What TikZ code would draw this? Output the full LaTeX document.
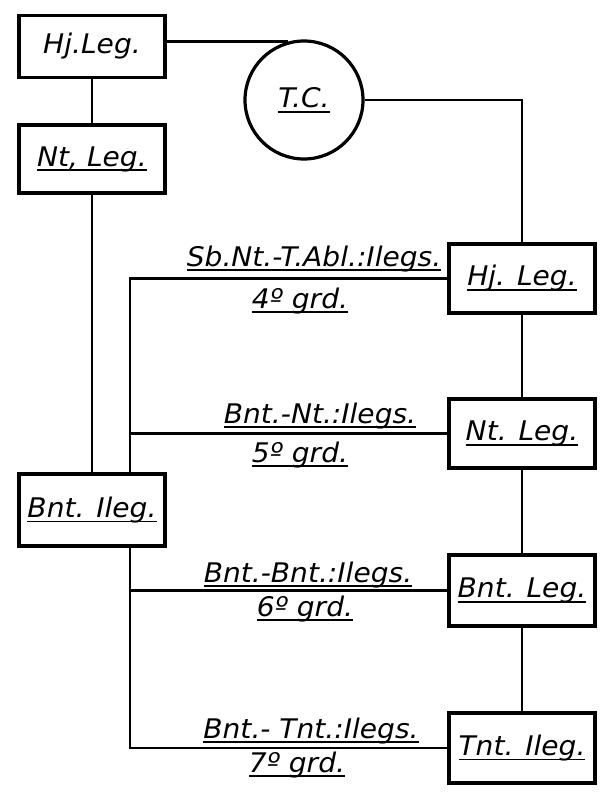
\documentclass[tikz,border=0pt]{standalone}
\usepackage{fontspec}
\setmainfont{DejaVu Sans}[FakeStretch=1.04]
\newcommand\myul[1]{\setbox0=\hbox{#1}\rlap{\rule[-5pt]{\wd0}{1.6pt}}\box0}
\tikzset{
  box/.style={draw, line width=3.8pt, minimum width=146pt, font=\fontsize{27}{29}\selectfont\itshape, inner sep=0pt},
  conn/.style={line width=2.2pt},
  lbl/.style={anchor=base, font=\fontsize{27}{29}\selectfont\itshape, inner sep=0pt},
}
\begin{document}
\begin{tikzpicture}[x=1pt,y=-1pt]
\useasboundingbox (0,0) rectangle (608,795);
% left column
\node[box, minimum height=62pt] (hjl) at (92,46.5) {Hj.Leg.};
\node[box, minimum height=68pt] (ntl) at (92,159) {\myul{Nt, Leg.}};
\node[box, minimum height=72pt] (bnl) at (92,510) {\myul{Bnt. Ileg.}};
% circle
\node[draw, circle, line width=3.2pt, minimum size=118pt, font=\fontsize{27}{29}\selectfont\itshape, inner sep=0pt] (tc) at (304,100) {\myul{T.C.}};
% right column
\node[box, minimum height=69pt] (hjr) at (522,278.5) {\myul{Hj. Leg.}};
\node[box, minimum height=69pt] (ntr) at (522,433.5) {\myul{Nt. Leg.}};
\node[box, minimum height=71pt] (bnr) at (522,590.5) {\myul{Bnt. Leg.}};
\node[box, minimum height=70pt] (tnr) at (522,748) {\myul{Tnt. Ileg.}};
% connectors
\coordinate (v) at (130,0);
\draw[conn] (hjl.south) -- (ntl.north);
\draw[conn] (ntl.south) -- (bnl.north);
\draw[conn] (hjl.east |- tc.105) -- (tc.105);
\draw[conn] (tc.east) -- (tc.east -| hjr.north) -- (hjr.north);
\draw[conn] (hjr.south) -- (ntr.north);
\draw[conn] (ntr.south) -- (bnr.north);
\draw[conn] (bnr.south) -- (tnr.north);
\draw[conn] (hjr.west) -- (hjr.west -| v) -- (v |- bnl.north);
\draw[conn] (ntr.west) -- (ntr.west -| v);
\draw[conn] (v |- bnl.south) -- (v |- tnr.west) -- (tnr.west);
\draw[conn] (bnr.west) -- (bnr.west -| v);
% labels
\node[lbl] (l4a) at (314,266) {\myul{Sb.Nt.-T.Abl.:Ilegs.}};
\node[lbl] (l4b) at (300,308) {\myul{4º grd.}};
\node[lbl] (l5a) at (320,423) {\myul{Bnt.-Nt.:Ilegs.}};
\node[lbl] (l5b) at (300,462) {\myul{5º grd.}};
\node[lbl] (l6a) at (308,582) {\myul{Bnt.-Bnt.:Ilegs.}};
\node[lbl] (l6b) at (305,616) {\myul{6º grd.}};
\node[lbl] (l7a) at (311,738) {\myul{Bnt.- Tnt.:Ilegs.}};
\node[lbl] (l7b) at (297,772) {\myul{7º grd.}};
\end{tikzpicture}
\end{document}
